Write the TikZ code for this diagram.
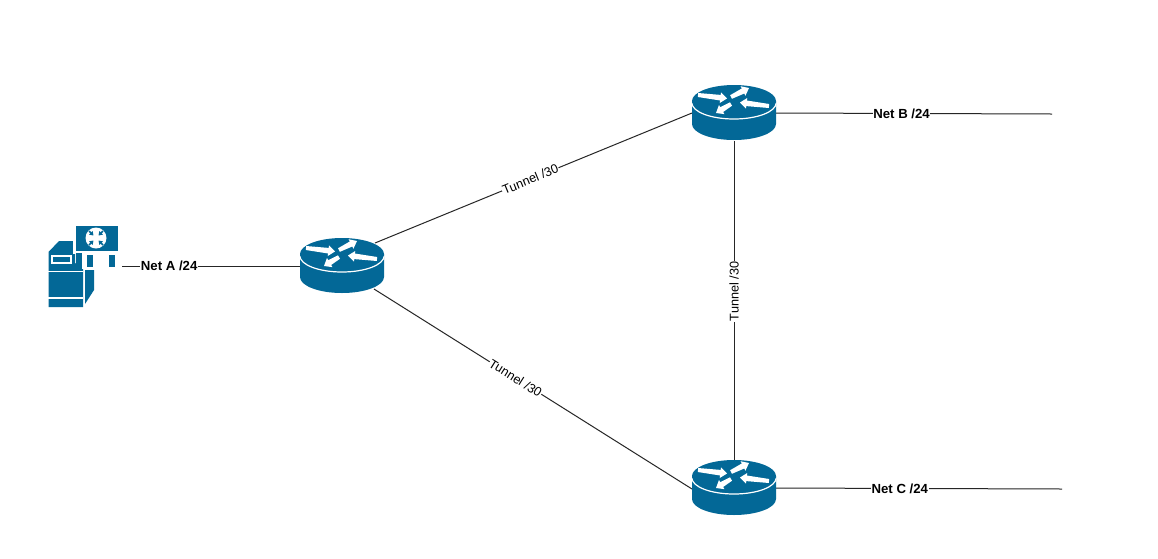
\documentclass[tikz,border=0pt]{standalone}
\usepackage{fontspec}
\setmainfont{Liberation Sans}
\usetikzlibrary{arrows.meta,calc}
\definecolor{cisco}{HTML}{036897}
\newcommand\whitearr[2]{%
  \coordinate (arrT) at (#1);
  \coordinate (arrH) at (#2);
  \coordinate (arrN) at ($(arrH)!5pt!(arrT)$);
  \fill[white] ($(arrT)!1.5pt!90:(arrH)$) -- ($(arrN)!2.1pt!-90:(arrT)$) -- ($(arrN)!4pt!-90:(arrT)$) -- (arrH) -- ($(arrN)!4pt!90:(arrT)$) -- ($(arrN)!2.1pt!90:(arrT)$) -- ($(arrT)!1.5pt!-90:(arrH)$) -- cycle;
}
\tikzset{
  x=0.75pt,y=-0.75pt,
  routerbox/.style={inner sep=0pt,minimum width=63pt,minimum height=42pt},
  serverbox/.style={inner sep=0pt,minimum width=54pt,minimum height=62pt},
  wire/.style={draw=black!85,line width=0.75pt},
  netlabel/.style={fill=white,inner xsep=0.5pt,inner ysep=0.5pt,font=\fontsize{9.9}{11}\selectfont\bfseries},
  tunnellabel/.style={fill=white,inner xsep=0.5pt,inner ysep=0.5pt,font=\fontsize{9.5}{11}\selectfont},
  router/.pic={
    \fill[cisco] (-42,-12) -- (-42,11) arc[start angle=180,end angle=0,x radius=42,y radius=16] -- (42,-12) -- cycle;
    \draw[white,line width=0.9pt] (-42,-10) arc[start angle=180,end angle=0,x radius=42,y radius=16];
    \fill[cisco] (0,-12) ellipse[x radius=42,y radius=16];
    \whitearr{-36,-18}{-7,-14.5}
    \whitearr{-3,-16}{15,-25}
    \whitearr{-3,-9}{-18,0}
    \whitearr{35,-7}{6,-10.5}
  }
}
\begin{document}
\begin{tikzpicture}
\useasboundingbox (0,0) rectangle (1158,558);
\fill[white] (0,0) rectangle (1158,558);
% nodes
\node[serverbox] (srv) at (85,266) {};
\node[routerbox] (r1) at (342,266) {};
\node[routerbox] (r2) at (734,113) {};
\node[routerbox] (r3) at (734,488) {};
\coordinate (endb) at (1052,114);
\coordinate (endc) at (1062,489);
% connectors
\draw[wire] ([shift={(37,0)}]srv.center) -- node[netlabel,pos=0.265] (neta) {Net A /24} ([shift={(-42,0)}]r1.center);
\draw[wire] ([shift={(33,-23)}]r1.center) -- node[tunnellabel,pos=0.49,sloped] (t1) {Tunnel /30} ([shift={(-42,0)}]r2.center);
\draw[wire] ([shift={(32,23)}]r1.center) -- node[tunnellabel,pos=0.445,sloped] (t2) {Tunnel /30} ([shift={(-42,1)}]r3.center);
\draw[wire] ([shift={(0,28)}]r2.center) -- node[tunnellabel,pos=0.47,rotate=90] (t3) {Tunnel /30} ([shift={(0,-27)}]r3.center);
\draw[wire] ([shift={(42,0)}]r2.center) -- node[netlabel,pos=0.455] (netb) {Net B /24} (endb);
\draw[wire] ([shift={(42,0)}]r3.center) -- node[netlabel,pos=0.433] (netc) {Net C /24} (endc);
% routers
\pic at (r1) {router};
\pic at (r2) {router};
\pic at (r3) {router};
% server with switch
\begin{scope}[shift={(srv.center)},shift={(-85,-266)}]
  \fill[cisco] (48.5,252) -- (59,241) -- (75,241) -- (75,263) -- (83,268) -- (83,307) -- (48.5,307) -- cycle;
  \fill[cisco] (85,270) -- (94,270) -- (94,290) -- (85,304) -- cycle;
  \draw[white,line width=0.9pt] (48,271.5) -- (83,271.5);
  \draw[white,line width=0.9pt] (48,298) -- (83,298);
  \draw[white,line width=0.9pt] (52,256) rectangle (71,263);
  \fill[white] (73,241) rectangle (120,254);
  \fill[white] (82,254) rectangle (120,269);
  \fill[cisco] (76,226) rectangle (118,251);
  \fill[cisco] (76,253) rectangle (82,267);
  \fill[cisco] (87,255) rectangle (93,267);
  \fill[cisco] (109,255) rectangle (115,267);
  \fill[white] (96,238) circle[radius=10.5];
  \begin{scope}[draw=cisco,line width=1.15pt,-{Triangle[width=3.6pt,length=2.8pt]}]
    \draw (89,231) -- (93.5,235.5);
    \draw (103,231) -- (98.5,235.5);
    \draw (89,245) -- (93.5,240.5);
    \draw (103,245) -- (98.5,240.5);
  \end{scope}
\end{scope}
\end{tikzpicture}
\end{document}
